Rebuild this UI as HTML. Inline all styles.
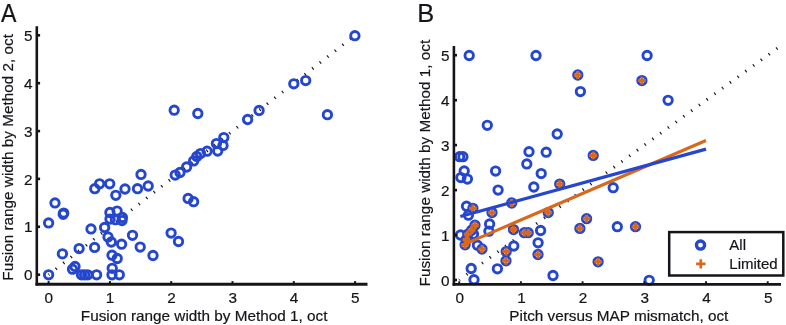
<!DOCTYPE html>
<html><head><meta charset="utf-8"><title>Fusion range width</title>
<style>
html,body{margin:0;padding:0;background:#fff;}
svg{display:block;will-change:transform;}
text{font-family:"Liberation Sans",sans-serif;fill:#161419;stroke:#161419;stroke-width:0.2px;}
</style></head><body>
<svg width="786" height="325" viewBox="0 0 786 325">
<rect width="786" height="325" fill="#fff"/>
<line x1="48.6" y1="274.7" x2="355.1" y2="35.3" stroke="#161419" stroke-width="3" stroke-dasharray="1.15 8.425" stroke-dashoffset="0.5"/>
<g fill="none" stroke="#2546cf" stroke-width="2.9">
<circle cx="354.9" cy="35.7" r="4.2"/><circle cx="293.8" cy="83.8" r="4.2"/><circle cx="305.7" cy="80.6" r="4.2"/><circle cx="174.2" cy="110.2" r="4.2"/><circle cx="197.8" cy="113.5" r="4.2"/><circle cx="327.4" cy="114.7" r="4.2"/><circle cx="259.1" cy="110.5" r="4.2"/><circle cx="247.6" cy="119.5" r="4.2"/><circle cx="223.8" cy="137.6" r="4.2"/><circle cx="216.4" cy="143.6" r="4.2"/><circle cx="223.0" cy="145.4" r="4.2"/><circle cx="217.7" cy="151.1" r="4.2"/><circle cx="207.1" cy="151.2" r="4.2"/><circle cx="200.5" cy="153.6" r="4.2"/><circle cx="196.8" cy="156.4" r="4.2"/><circle cx="193.6" cy="160.9" r="4.2"/><circle cx="186.6" cy="167.0" r="4.2"/><circle cx="180.0" cy="172.5" r="4.2"/><circle cx="175.2" cy="175.1" r="4.2"/><circle cx="141.0" cy="174.4" r="4.2"/><circle cx="99.6" cy="183.8" r="4.2"/><circle cx="109.7" cy="183.8" r="4.2"/><circle cx="94.8" cy="188.7" r="4.2"/><circle cx="148.2" cy="186.0" r="4.2"/><circle cx="137.5" cy="188.7" r="4.2"/><circle cx="125.0" cy="189.0" r="4.2"/><circle cx="115.8" cy="195.3" r="4.2"/><circle cx="55.0" cy="202.9" r="4.2"/><circle cx="63.7" cy="213.1" r="4.2"/><circle cx="63.2" cy="214.3" r="4.2"/><circle cx="48.6" cy="222.9" r="4.2"/><circle cx="188.1" cy="198.4" r="4.2"/><circle cx="193.6" cy="201.7" r="4.2"/><circle cx="109.9" cy="212.5" r="4.2"/><circle cx="117.1" cy="211.1" r="4.2"/><circle cx="122.4" cy="217.5" r="4.2"/><circle cx="122.0" cy="220.6" r="4.2"/><circle cx="110.0" cy="219.1" r="4.2"/><circle cx="115.4" cy="219.7" r="4.2"/><circle cx="91.0" cy="228.9" r="4.2"/><circle cx="104.6" cy="227.4" r="4.2"/><circle cx="108.0" cy="236.9" r="4.2"/><circle cx="111.3" cy="242.0" r="4.2"/><circle cx="121.6" cy="244.2" r="4.2"/><circle cx="132.5" cy="235.3" r="4.2"/><circle cx="171.1" cy="233.1" r="4.2"/><circle cx="178.5" cy="241.5" r="4.2"/><circle cx="79.1" cy="248.6" r="4.2"/><circle cx="94.6" cy="247.4" r="4.2"/><circle cx="140.2" cy="247.1" r="4.2"/><circle cx="62.4" cy="253.8" r="4.2"/><circle cx="153.0" cy="255.5" r="4.2"/><circle cx="112.0" cy="255.2" r="4.2"/><circle cx="117.2" cy="258.5" r="4.2"/><circle cx="75.0" cy="266.4" r="4.2"/><circle cx="72.5" cy="269.2" r="4.2"/><circle cx="112.2" cy="268.3" r="4.2"/><circle cx="48.6" cy="274.8" r="4.2"/><circle cx="81.5" cy="274.8" r="4.2"/><circle cx="84.6" cy="274.8" r="4.2"/><circle cx="87.7" cy="274.8" r="4.2"/><circle cx="96.6" cy="274.8" r="4.2"/><circle cx="112.0" cy="274.8" r="4.2"/><circle cx="119.3" cy="274.8" r="4.2"/>
</g>
<g stroke="#161419" fill="none">
<path d="M36.8,26.3 V285.6" stroke-width="2.6"/><path d="M35.5,284.25 H367.5" stroke-width="2.8"/>
<line x1="48.6" y1="284" x2="48.6" y2="281.1" stroke-width="2"/><line x1="37" y1="274.7" x2="40.1" y2="274.7" stroke-width="2.6"/><line x1="109.9" y1="284" x2="109.9" y2="281.1" stroke-width="2"/><line x1="37" y1="226.8" x2="40.1" y2="226.8" stroke-width="2.6"/><line x1="171.2" y1="284" x2="171.2" y2="281.1" stroke-width="2"/><line x1="37" y1="178.9" x2="40.1" y2="178.9" stroke-width="2.6"/><line x1="232.5" y1="284" x2="232.5" y2="281.1" stroke-width="2"/><line x1="37" y1="131.1" x2="40.1" y2="131.1" stroke-width="2.6"/><line x1="293.8" y1="284" x2="293.8" y2="281.1" stroke-width="2"/><line x1="37" y1="83.2" x2="40.1" y2="83.2" stroke-width="2.6"/><line x1="355.1" y1="284" x2="355.1" y2="281.1" stroke-width="2"/><line x1="37" y1="35.3" x2="40.1" y2="35.3" stroke-width="2.6"/>
</g>
<text transform="translate(48.80,302.80) scale(1.0,1)" font-size="15.3" text-anchor="middle">0</text>
<text transform="translate(32.50,280.30) scale(1.0,1)" font-size="15.3" text-anchor="end">0</text>
<text transform="translate(110.10,302.80) scale(1.0,1)" font-size="15.3" text-anchor="middle">1</text>
<text transform="translate(32.50,232.42) scale(1.0,1)" font-size="15.3" text-anchor="end">1</text>
<text transform="translate(171.40,302.80) scale(1.0,1)" font-size="15.3" text-anchor="middle">2</text>
<text transform="translate(32.50,184.54) scale(1.0,1)" font-size="15.3" text-anchor="end">2</text>
<text transform="translate(232.70,302.80) scale(1.0,1)" font-size="15.3" text-anchor="middle">3</text>
<text transform="translate(32.50,136.66) scale(1.0,1)" font-size="15.3" text-anchor="end">3</text>
<text transform="translate(294.00,302.80) scale(1.0,1)" font-size="15.3" text-anchor="middle">4</text>
<text transform="translate(32.50,88.78) scale(1.0,1)" font-size="15.3" text-anchor="end">4</text>
<text transform="translate(355.30,302.80) scale(1.0,1)" font-size="15.3" text-anchor="middle">5</text>
<text transform="translate(32.50,40.90) scale(1.0,1)" font-size="15.3" text-anchor="end">5</text>
<text transform="translate(80.80,320.70) scale(1.0,1)" font-size="15.3" text-anchor="start">Fusion range width by Method 1, oct</text>
<text transform="translate(12.60,280.70) rotate(-90) scale(1.0,1)" font-size="15.3" text-anchor="start">Fusion range width by Method 2, oct</text>
<text transform="translate(0.90,21.70) scale(0.89,1)" font-size="26" text-anchor="start" stroke-width="0.05">A</text>
<line x1="459.2" y1="280.0" x2="780.0" y2="46.3" stroke="#161419" stroke-width="3" stroke-dasharray="1.15 8.435" stroke-dashoffset="0.5"/>
<g fill="none" stroke="#2546cf" stroke-width="2.9">
<circle cx="469.2" cy="55.5" r="4.2"/><circle cx="536.0" cy="55.5" r="4.2"/><circle cx="647.1" cy="55.5" r="4.2"/><circle cx="577.8" cy="75.0" r="4.2"/><circle cx="641.9" cy="80.6" r="4.2"/><circle cx="580.4" cy="91.6" r="4.2"/><circle cx="668.1" cy="100.3" r="4.2"/><circle cx="487.3" cy="125.3" r="4.2"/><circle cx="557.2" cy="134.0" r="4.2"/><circle cx="529.0" cy="151.7" r="4.2"/><circle cx="546.2" cy="152.2" r="4.2"/><circle cx="526.8" cy="163.9" r="4.2"/><circle cx="593.2" cy="155.4" r="4.2"/><circle cx="459.6" cy="156.7" r="4.2"/><circle cx="462.9" cy="156.7" r="4.2"/><circle cx="464.2" cy="170.9" r="4.2"/><circle cx="460.9" cy="177.6" r="4.2"/><circle cx="467.4" cy="179.1" r="4.2"/><circle cx="495.6" cy="171.1" r="4.2"/><circle cx="541.2" cy="173.6" r="4.2"/><circle cx="498.1" cy="190.1" r="4.2"/><circle cx="533.8" cy="187.0" r="4.2"/><circle cx="559.7" cy="184.1" r="4.2"/><circle cx="613.2" cy="187.7" r="4.2"/><circle cx="466.5" cy="206.2" r="4.2"/><circle cx="472.9" cy="208.3" r="4.2"/><circle cx="468.4" cy="215.2" r="4.2"/><circle cx="492.0" cy="212.5" r="4.2"/><circle cx="511.7" cy="203.0" r="4.2"/><circle cx="489.6" cy="224.0" r="4.2"/><circle cx="475.0" cy="225.2" r="4.2"/><circle cx="471.6" cy="230.2" r="4.2"/><circle cx="467.8" cy="234.2" r="4.2"/><circle cx="466.3" cy="239.4" r="4.2"/><circle cx="473.5" cy="234.2" r="4.2"/><circle cx="460.5" cy="235.0" r="4.2"/><circle cx="488.9" cy="231.2" r="4.2"/><circle cx="465.1" cy="244.8" r="4.2"/><circle cx="477.4" cy="245.2" r="4.2"/><circle cx="482.0" cy="249.0" r="4.2"/><circle cx="513.5" cy="229.6" r="4.2"/><circle cx="524.3" cy="232.7" r="4.2"/><circle cx="528.2" cy="232.7" r="4.2"/><circle cx="540.6" cy="230.5" r="4.2"/><circle cx="538.1" cy="242.8" r="4.2"/><circle cx="513.8" cy="246.0" r="4.2"/><circle cx="506.2" cy="251.6" r="4.2"/><circle cx="538.0" cy="254.5" r="4.2"/><circle cx="506.0" cy="260.8" r="4.2"/><circle cx="548.2" cy="212.6" r="4.2"/><circle cx="586.6" cy="218.7" r="4.2"/><circle cx="579.9" cy="228.4" r="4.2"/><circle cx="617.3" cy="226.7" r="4.2"/><circle cx="635.5" cy="226.7" r="4.2"/><circle cx="598.1" cy="261.8" r="4.2"/><circle cx="497.4" cy="268.8" r="4.2"/><circle cx="471.2" cy="268.5" r="4.2"/><circle cx="474.0" cy="279.7" r="4.2"/><circle cx="553.0" cy="275.5" r="4.2"/><circle cx="649.2" cy="280.3" r="4.2"/>
</g>
<g stroke="#d8681c" stroke-width="3.0" fill="none">
<path d="M573.9,75.0h7.8M577.8,71.1v7.8"/><path d="M638.0,80.6h7.8M641.9,76.7v7.8"/><path d="M589.3,155.4h7.8M593.2,151.5v7.8"/><path d="M555.8,184.1h7.8M559.7,180.2v7.8"/><path d="M469.0,208.3h7.8M472.9,204.4v7.8"/><path d="M488.1,212.5h7.8M492.0,208.6v7.8"/><path d="M507.8,203.0h7.8M511.7,199.1v7.8"/><path d="M471.1,225.2h7.8M475.0,221.3v7.8"/><path d="M467.7,230.2h7.8M471.6,226.3v7.8"/><path d="M463.9,234.2h7.8M467.8,230.3v7.8"/><path d="M462.4,239.4h7.8M466.3,235.5v7.8"/><path d="M461.2,244.8h7.8M465.1,240.9v7.8"/><path d="M478.1,249.0h7.8M482.0,245.1v7.8"/><path d="M509.6,229.6h7.8M513.5,225.7v7.8"/><path d="M520.4,232.7h7.8M524.3,228.8v7.8"/><path d="M524.3,232.7h7.8M528.2,228.8v7.8"/><path d="M502.3,251.6h7.8M506.2,247.7v7.8"/><path d="M534.1,254.5h7.8M538.0,250.6v7.8"/><path d="M502.1,260.8h7.8M506.0,256.9v7.8"/><path d="M544.3,212.6h7.8M548.2,208.7v7.8"/><path d="M582.7,218.7h7.8M586.6,214.8v7.8"/><path d="M576.0,228.4h7.8M579.9,224.5v7.8"/><path d="M631.6,226.7h7.8M635.5,222.8v7.8"/><path d="M594.2,261.8h7.8M598.1,257.9v7.8"/>
</g>
<line x1="461.2" y1="245.6" x2="706" y2="140.5" stroke="#d8681c" stroke-width="3.1"/>
<line x1="460.3" y1="216.5" x2="706" y2="149.1" stroke="#2546cf" stroke-width="3.2"/>
<g stroke="#161419" fill="none">
<path d="M453.9,46 V285.7" stroke-width="2.6"/><path d="M452.6,284.35 H781" stroke-width="2.8"/>
<line x1="459.2" y1="284" x2="459.2" y2="281.3" stroke-width="1.9"/><line x1="454.2" y1="280.0" x2="457.0" y2="280.0" stroke-width="2.6"/><line x1="520.9" y1="284" x2="520.9" y2="281.3" stroke-width="1.9"/><line x1="454.2" y1="235.1" x2="457.0" y2="235.1" stroke-width="2.6"/><line x1="582.6" y1="284" x2="582.6" y2="281.3" stroke-width="1.9"/><line x1="454.2" y1="190.1" x2="457.0" y2="190.1" stroke-width="2.6"/><line x1="644.3" y1="284" x2="644.3" y2="281.3" stroke-width="1.9"/><line x1="454.2" y1="145.1" x2="457.0" y2="145.1" stroke-width="2.6"/><line x1="706.0" y1="284" x2="706.0" y2="281.3" stroke-width="1.9"/><line x1="454.2" y1="100.2" x2="457.0" y2="100.2" stroke-width="2.6"/><line x1="767.7" y1="284" x2="767.7" y2="281.3" stroke-width="1.9"/><line x1="454.2" y1="55.2" x2="457.0" y2="55.2" stroke-width="2.6"/>
</g>
<text transform="translate(459.70,302.80) scale(1.0,1)" font-size="15.3" text-anchor="middle">0</text>
<text transform="translate(449.60,285.50) scale(1.0,1)" font-size="15.3" text-anchor="end">0</text>
<text transform="translate(521.40,302.80) scale(1.0,1)" font-size="15.3" text-anchor="middle">1</text>
<text transform="translate(449.60,240.55) scale(1.0,1)" font-size="15.3" text-anchor="end">1</text>
<text transform="translate(583.10,302.80) scale(1.0,1)" font-size="15.3" text-anchor="middle">2</text>
<text transform="translate(449.60,195.60) scale(1.0,1)" font-size="15.3" text-anchor="end">2</text>
<text transform="translate(644.80,302.80) scale(1.0,1)" font-size="15.3" text-anchor="middle">3</text>
<text transform="translate(449.60,150.65) scale(1.0,1)" font-size="15.3" text-anchor="end">3</text>
<text transform="translate(706.50,302.80) scale(1.0,1)" font-size="15.3" text-anchor="middle">4</text>
<text transform="translate(449.60,105.70) scale(1.0,1)" font-size="15.3" text-anchor="end">4</text>
<text transform="translate(768.20,302.80) scale(1.0,1)" font-size="15.3" text-anchor="middle">5</text>
<text transform="translate(449.60,60.75) scale(1.0,1)" font-size="15.3" text-anchor="end">5</text>
<text transform="translate(509.30,320.80) scale(1.0,1)" font-size="15.3" text-anchor="start">Pitch versus MAP mismatch, oct</text>
<text transform="translate(430.00,286.40) rotate(-90) scale(1.0,1)" font-size="15.3" text-anchor="start">Fusion range width by Method 1, oct</text>
<text transform="translate(417.30,21.70) scale(0.98,1)" font-size="26" text-anchor="start" stroke-width="0.05">B</text>
<rect x="669.2" y="232.1" width="114.1" height="43.4" fill="#fff" stroke="#161419" stroke-width="2.5"/>
<circle cx="700.5" cy="245.1" r="4.1" fill="none" stroke="#2546cf" stroke-width="3.3"/>
<path d="M696.1,263.9h9.4M700.8,259.2v9.4" stroke="#d8681c" stroke-width="2.7" fill="none"/>
<text transform="translate(729.30,250.00) scale(1.0,1)" font-size="15.0" text-anchor="start">All</text>
<text transform="translate(729.30,269.00) scale(1.0,1)" font-size="15.0" text-anchor="start">Limited</text>
</svg>
</body></html>
